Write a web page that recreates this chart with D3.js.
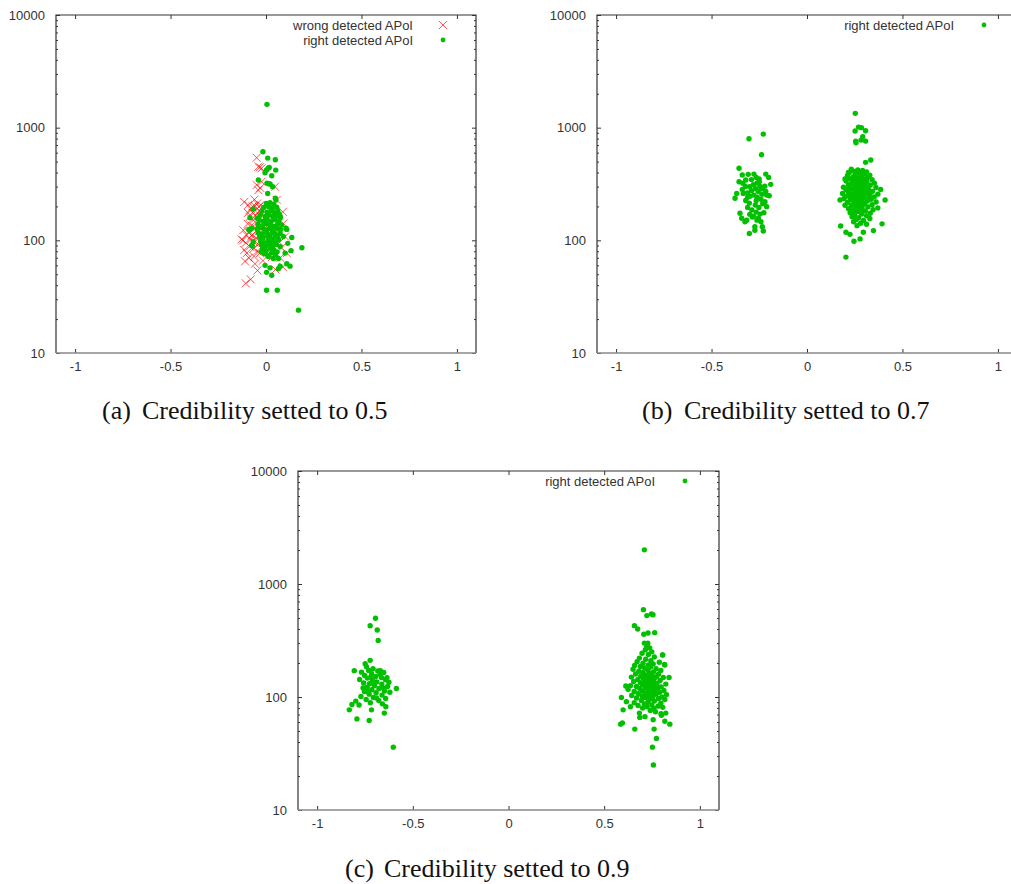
<!DOCTYPE html>
<html>
<head>
<meta charset="utf-8">
<script src="https://cdn.jsdelivr.net/npm/d3@7"></script>
<style>
  body { margin: 0; background: #fff; }
  svg { display: block; }
  .tick text { font-family: "Liberation Sans", Arial, sans-serif; font-size: 13px; fill: #333; }
  .tick line { stroke: #333; }
  .legend text { font-family: "Liberation Sans", Arial, sans-serif; font-size: 13px; fill: #333; }
  .caption { font-family: "Liberation Serif", "DejaVu Serif", serif; font-size: 26px; fill: #111; }
</style>
</head>
<body>
<svg id="chart" width="1011" height="884"></svg>
<script>
var xTicks = [-1, -0.5, 0, 0.5, 1];
var yTicks = [10, 100, 1000, 10000];
var yMinor = [20, 30, 40, 50, 60, 70, 80, 90, 200, 300, 400, 500, 600, 700, 800, 900,
              2000, 3000, 4000, 5000, 6000, 7000, 8000, 9000];

var wrongLabel = 'wrong detected APoI';
var rightLabel = 'right detected APoI';
var captionTags = ['(a)', '(b)', '(c)'];
var captionTexts = ['Credibility setted to 0.5', 'Credibility setted to 0.7', 'Credibility setted to 0.9'];

// credibility 0.5
var wrongA = [
  [-0.049,541],[-0.04,450],[-0.023,436],[-0.032,445],[-0.049,310],[-0.023,331],[-0.04,279],[-0.03,292],[0.047,299],
  [-0.114,219],[-0.093,206],[-0.037,198],[-0.028,206],[-0.128,102],[-0.119,123],[-0.114,82],[-0.101,77],[-0.11,65],
  [-0.106,41.5],[-0.08,45],[-0.045,54],[-0.032,77],[-0.063,72],[0.1,108],[0.109,77],[0.088,58],[0.091,141],[0.088,179],
  [0.056,228],[0.05,55],
  [-0.08,190],[-0.058,201],[-0.047,212],[-0.071,176],[-0.054,166],[-0.034,182],[-0.086,161],[-0.066,151],[-0.044,146],
  [-0.076,136],[-0.056,129],[-0.036,121],[-0.091,118],[-0.071,112],[-0.051,105],[-0.081,101],[-0.061,96],[-0.041,92],
  [-0.086,88],[-0.066,84],[-0.046,80],[-0.026,101],[-0.021,151],[-0.011,126],[-0.096,140],[-0.101,111],[-0.106,95],
  [0.061,121],[0.071,96],[0.081,86],[0.031,71],[0.046,151],[-0.016,66],[-0.058,62],[-0.09,70],[-0.12,100],[-0.07,200],
  [-0.06,230],[-0.02,170],[0.0,90],[-0.075,110],[-0.045,175],[0.075,70],[-0.095,175]
];
var rightA = [
  [0.005,1610],[-0.016,611],[0.009,537],[0.049,519],[0.051,420],[0.012,437],[0.017,444],[-0.005,398],[0.003,422],[0.03,374],
  [0.005,322],[0.014,318],[0.035,299],[-0.04,343],[0.009,261],[0.049,236],[0.052,228],[0.021,316],
  [-0.084,159],[-0.089,125],[-0.075,128],[-0.072,89],[-0.046,157],[-0.067,190],[-0.067,97],[-0.075,90],[-0.088,123],
  [0.109,125],[0.135,106],[0.188,86],[0.131,81],[0.114,94],[0.1,77],[0.126,59],[0.109,62],[0.074,59],[0.065,56],
  [0.03,49],[0.003,52],[0.021,57],[-0.005,60],[0.003,36],[0.059,36],[0.17,24],[0.065,69],[0.038,69],[0.012,72],[-0.026,79],
  [0.074,157],[0.082,137],[0.074,115],[0.065,101],[0.091,108],[0.075,162],[0.105,128],
  [0.002,212],[0.021,216],[0.041,208],[-0.012,196],[0.014,199],[0.033,193],[0.056,197],
  [-0.022,182],[0.006,178],[0.027,184],[0.044,176],[0.062,181],
  [-0.031,167],[-0.004,163],[0.017,168],[0.036,161],[0.054,166],[0.071,170],
  [-0.036,151],[-0.013,148],[0.006,153],[0.026,146],[0.047,152],[0.066,147],
  [-0.042,138],[-0.019,135],[0.001,140],[0.022,137],[0.041,133],[0.061,139],
  [-0.047,126],[-0.024,129],[-0.006,124],[0.016,127],[0.034,122],[0.056,128],[0.077,125],
  [-0.041,117],[-0.018,114],[0.002,119],[0.021,112],[0.043,116],[0.059,111],
  [-0.034,107],[-0.016,104],[0.007,109],[0.026,102],[0.046,106],[0.064,103],
  [-0.028,98],[-0.009,95],[0.012,100],[0.031,96],[0.051,99],
  [-0.024,91],[-0.004,88],[0.016,93],[0.036,89],[0.054,92],[0.074,88],
  [-0.018,84],[0.001,81],[0.022,85],[0.041,82],[0.058,79],
  [-0.008,76],[0.011,73],[0.029,77],[0.049,75]
];

// credibility 0.7
var rightB = [
  [-0.304,797],[-0.229,877],[-0.238,575],[-0.356,436],[-0.339,380],[-0.308,385],[-0.278,387],[-0.321,343],[-0.356,331],
  [-0.216,387],[-0.201,362],[-0.19,314],[-0.25,331],[-0.368,261],[-0.377,236],[-0.339,283],[-0.334,261],[-0.211,252],
  [-0.198,249],[-0.22,220],[-0.211,199],[-0.351,174],[-0.342,157],[-0.325,146],[-0.316,151],[-0.273,132],[-0.234,132],
  [-0.273,123],[-0.229,121],[-0.302,115],[-0.255,157],[-0.281,164],
  [-0.3,300],[-0.281,312],[-0.262,322],[-0.246,301],[-0.27,288],[-0.291,276],[-0.312,264],[-0.256,271],[-0.236,286],
  [-0.221,302],[-0.299,246],[-0.279,252],[-0.261,241],[-0.241,231],[-0.321,226],[-0.302,214],[-0.271,206],[-0.252,196],
  [-0.232,211],[-0.311,196],[-0.289,186],[-0.266,178],[-0.246,171],[-0.226,176],[-0.3,170],[-0.286,161],[-0.262,151],
  [-0.241,146],[-0.322,301],[-0.336,321],[-0.291,346],[-0.266,361],[-0.251,351],[-0.311,241],[-0.266,226],[-0.236,256],[-0.216,271],
  [0.253,1340],[0.27,1012],[0.285,1000],[0.252,933],[0.307,939],[0.292,830],[0.255,760],[0.257,734],[0.283,776],[0.307,760],
  [0.334,516],[0.307,492],[0.176,134],[0.204,118],[0.225,113],[0.246,98],[0.278,103],[0.295,118],[0.348,122],[0.393,140],
  [0.204,71],[0.409,228],[0.386,283],[0.173,228],[0.199,350],[0.217,401],
  [0.232,428],[0.266,421],[0.291,417],[0.248,409],[0.312,405],[0.221,398],[0.276,394],[0.302,388],[0.254,383],[0.329,379],
  [0.212,374],[0.284,371],[0.241,365],[0.317,362],[0.268,356],[0.226,351],[0.296,348],[0.341,345],[0.251,341],[0.205,336],
  [0.279,333],[0.314,329],[0.237,325],[0.353,322],[0.262,319],[0.294,315],[0.218,312],[0.331,309],[0.273,305],[0.246,302],
  [0.309,299],[0.191,296],[0.361,294],[0.283,291],[0.229,288],[0.264,285],[0.322,283],[0.205,280],[0.297,277],[0.248,275],
  [0.343,272],[0.276,269],[0.218,266],[0.309,264],[0.186,261],[0.259,259],[0.371,257],[0.234,255],[0.289,252],[0.326,250],
  [0.207,247],[0.268,245],[0.352,243],[0.243,240],[0.301,238],[0.194,235],[0.279,233],[0.336,231],[0.226,228],[0.259,226],
  [0.316,223],[0.288,221],[0.362,219],[0.212,217],[0.246,214],[0.302,212],[0.271,209],[0.341,207],[0.199,205],[0.232,203],
  [0.289,200],[0.319,198],[0.256,196],[0.371,194],[0.218,191],[0.276,189],[0.346,187],[0.241,184],[0.306,182],[0.263,179],
  [0.226,176],[0.331,174],[0.286,171],[0.249,168],[0.312,165],[0.236,162],[0.271,159],[0.329,156],[0.258,153],[0.296,150],
  [0.244,146],[0.281,142],[0.312,139],[0.262,135],
  [0.26,300],[0.28,280],[0.27,250],[0.25,230],[0.29,240],[0.3,270],[0.24,290],[0.27,320],[0.3,320],[0.26,200],[0.28,215],
  [0.24,260],[0.31,290],[0.285,355],[0.255,360],[0.3,255],[0.32,230],[0.23,240],[0.27,185],[0.29,185],[0.22,300],[0.33,260]
];

// credibility 0.9
var rightC = [
  [-0.695,498],[-0.723,427],[-0.686,392],[-0.681,317],[-0.723,211],[-0.749,197],[-0.806,171],[-0.832,77],[-0.818,86],
  [-0.792,64],[-0.728,62],[-0.602,36],[-0.586,119],[-0.649,72],[-0.716,77],[-0.67,171],[-0.635,148],[-0.625,135],
  [-0.742,185],[-0.708,178],[-0.731,172],[-0.768,166],[-0.683,170],[-0.652,165],[-0.715,161],[-0.752,155],[-0.694,152],
  [-0.664,149],[-0.737,147],[-0.778,143],[-0.711,140],[-0.643,142],[-0.688,136],[-0.757,133],[-0.726,131],[-0.662,130],
  [-0.701,126],[-0.739,122],[-0.632,124],[-0.677,119],[-0.714,116],[-0.753,112],[-0.648,113],[-0.692,109],[-0.728,106],
  [-0.661,104],[-0.771,101],[-0.706,99],[-0.642,97],[-0.744,95],[-0.678,93],[-0.798,92],[-0.722,89],[-0.659,87],
  [-0.781,85],[-0.641,82],[-0.702,135],[-0.72,150],[-0.67,158],[-0.735,112],[-0.655,120],[-0.69,98],[-0.76,120],[-0.62,110],
  [0.71,2005],[0.705,593],[0.747,543],[0.755,535],[0.723,525],[0.658,428],[0.675,400],[0.707,359],[0.764,371],[0.729,368],
  [0.728,299],[0.71,300],[0.805,235],[0.817,192],[0.839,149],[0.843,57.5],[0.817,61],[0.822,72],[0.799,69],[0.773,43],
  [0.752,36],[0.757,25],[0.761,52],[0.756,63],[0.713,67],[0.686,66],[0.66,52],[0.586,57.5],[0.595,59],[0.599,77],
  [0.59,99],[0.616,91],[0.637,82],[0.613,125],
  [0.722,283],[0.738,272],[0.715,262],[0.749,251],[0.698,244],[0.731,238],[0.806,236],[0.762,226],[0.684,221],[0.717,216],
  [0.744,209],[0.672,205],[0.788,203],[0.703,199],[0.756,196],[0.731,192],[0.815,194],[0.659,190],
  [0.689,186],[0.742,184],[0.712,181],[0.771,178],[0.651,176],[0.728,174],[0.796,172],[0.681,169],[0.758,167],[0.703,165],
  [0.739,162],[0.664,160],[0.784,159],[0.718,157],[0.749,155],[0.691,153],[0.773,151],[0.642,150],[0.809,149],[0.728,148],
  [0.705,146],[0.761,145],[0.676,143],[0.739,141],[0.792,140],[0.714,138],[0.654,137],[0.749,135],[0.689,134],[0.776,132],
  [0.727,131],[0.822,130],[0.701,128],[0.758,127],[0.637,126],[0.739,125],[0.669,124],[0.798,123],[0.716,122],[0.781,121],
  [0.746,120],[0.686,119],[0.625,117],[0.729,116],[0.764,115],[0.812,114],[0.701,113],[0.657,112],[0.741,111],[0.789,110],
  [0.719,108],[0.679,107],[0.771,106],[0.826,105],[0.734,104],[0.644,103],[0.698,102],[0.755,101],[0.802,100],[0.716,99],
  [0.669,98],[0.784,97],[0.741,96],[0.817,95],
  [0.694,93],[0.762,92],[0.729,90],[0.657,89],[0.796,88],[0.711,87],[0.749,85],[0.677,84],[0.781,83],[0.724,82],
  [0.806,81],[0.701,80],[0.759,79],[0.741,76],[0.768,74],[0.684,72],[0.797,71],
  [0.73,140],[0.75,150],[0.72,125],[0.76,135],[0.74,118],[0.71,150],[0.77,125],[0.735,160],[0.755,110],[0.725,100]
];

var panels = [
  { left: 56,  top: 15,  width: 420, height: 338, right: rightA, wrong: wrongA, capX: 102, capGap: 40, capY: 419 },
  { left: 597, top: 15,  width: 420, height: 338, right: rightB, wrong: null,   capX: 642, capGap: 42, capY: 419 },
  { left: 298, top: 471, width: 421, height: 339, right: rightC, wrong: null,   capX: 345, capGap: 39, capY: 877 }
];

var green = '#00c000', red = '#ff0000';
var svg = d3.select('#chart');

function noDomain(a) { a.select('.domain').remove(); }

panels.forEach(function(p, i) {
  var x = d3.scaleLinear().domain([-1.1, 1.1]).range([0, p.width]);
  var y = d3.scaleLog().domain([10, 10000]).range([p.height, 0]);

  var g = svg.append('g').attr('transform', 'translate(' + p.left + ',' + p.top + ')');

  // ticks on all four sides, pointing inward
  g.append('g')
   .call(d3.axisLeft(y).tickValues(yTicks).tickSize(-4).tickPadding(11).tickFormat(d3.format('d')))
   .call(noDomain);
  g.append('g')
   .call(d3.axisLeft(y).tickValues(yMinor).tickSize(-2).tickFormat(''))
   .call(noDomain);
  g.append('g').attr('transform', 'translate(' + p.width + ',0)')
   .call(d3.axisRight(y).tickValues(yTicks).tickSize(-4).tickFormat(''))
   .call(noDomain);
  g.append('g').attr('transform', 'translate(' + p.width + ',0)')
   .call(d3.axisRight(y).tickValues(yMinor).tickSize(-2).tickFormat(''))
   .call(noDomain);
  g.append('g').attr('transform', 'translate(0,' + p.height + ')')
   .call(d3.axisBottom(x).tickValues(xTicks).tickSize(-4).tickPadding(9).tickFormat(function(d) { return String(d); }))
   .call(noDomain);
  g.append('g')
   .call(d3.axisTop(x).tickValues(xTicks).tickSize(-4).tickFormat(''))
   .call(noDomain);

  // border
  g.append('path')
   .attr('d', 'M0,' + p.height + 'V0H' + p.width + 'V' + p.height)
   .attr('fill', 'none').attr('stroke', '#333').attr('stroke-width', 1.2);
  g.append('line')
   .attr('x1', 0).attr('x2', p.width).attr('y1', p.height).attr('y2', p.height)
   .attr('stroke', '#888').attr('stroke-width', 1.4);

  if (p.wrong) {
    g.append('g').selectAll('path')
     .data(p.wrong)
     .enter()
     .append('path')
     .attr('d', function(d) {
       var cx = x(d[0]), cy = y(d[1]), s = 4;
       return 'M' + (cx - s) + ',' + (cy - s) + 'L' + (cx + s) + ',' + (cy + s) +
              'M' + (cx - s) + ',' + (cy + s) + 'L' + (cx + s) + ',' + (cy - s);
     })
     .attr('stroke', red).attr('stroke-width', 0.9).attr('stroke-opacity', 0.75).attr('fill', 'none');
  }

  g.append('g').selectAll('circle')
   .data(p.right)
   .enter()
   .append('circle')
   .attr('cx', function(d) { return x(d[0]); })
   .attr('cy', function(d) { return y(d[1]); })
   .attr('r', 2.7)
   .attr('fill', green);

  // legend
  var legend = g.append('g').attr('class', 'legend');
  var rows = p.wrong ? [wrongLabel, rightLabel] : [rightLabel];
  rows.forEach(function(label, j) {
    var ly = 10 + j * 15;
    legend.append('text')
          .attr('x', 357).attr('y', ly).attr('dy', '.35em')
          .style('text-anchor', 'end')
          .text(label);
    if (label === wrongLabel) {
      legend.append('path')
            .attr('d', 'M383,' + (ly - 4) + 'l8,8M383,' + (ly + 4) + 'l8,-8')
            .attr('stroke', red).attr('stroke-width', 0.9).attr('stroke-opacity', 0.75);
    } else {
      legend.append('circle').attr('cx', 387).attr('cy', ly).attr('r', 2.4).attr('fill', green);
    }
  });

  // caption
  svg.append('text').attr('class', 'caption')
     .attr('x', p.capX).attr('y', p.capY).text(captionTags[i]);
  svg.append('text').attr('class', 'caption')
     .attr('x', p.capX + p.capGap).attr('y', p.capY).text(captionTexts[i]);
});
</script>
</body>
</html>
